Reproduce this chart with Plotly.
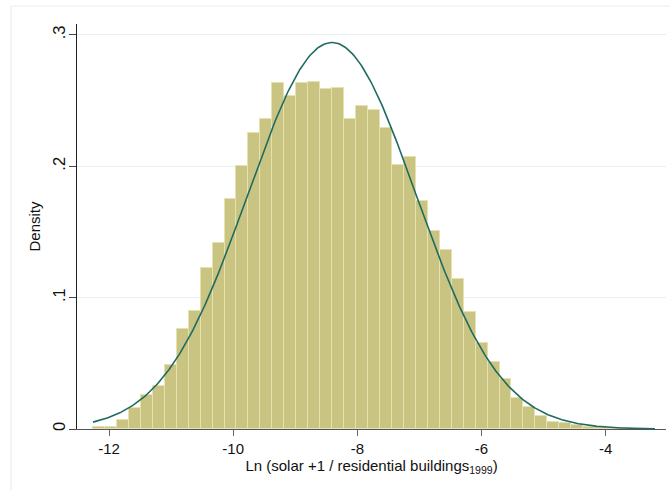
import numpy as np
import plotly.graph_objects as go

# Histogram bins (density scale)
bin_start = -12.258
bin_width = 0.1926
density = [
    0.0013, 0.0018, 0.0067, 0.0157, 0.0257, 0.0330, 0.0491, 0.0758, 0.0902, 0.1223,
    0.1418, 0.1748, 0.2000, 0.2257, 0.2358, 0.2633, 0.2534, 0.2633, 0.2640, 0.2592,
    0.2597, 0.2361, 0.2457, 0.2432, 0.2295, 0.2008, 0.2074, 0.1736, 0.1507, 0.1360,
    0.1139, 0.0892, 0.0653, 0.0511, 0.0384, 0.0239, 0.0171, 0.0100, 0.0056, 0.0046,
    0.0028, 0.0018, 0.0012, 0.0008, 0.0005, 0.0003, 0.0002,
]

# Fitted normal overlay parameters
norm_mean = -8.41
norm_sd = 1.356

x_ticks = [-12, -10, -8, -6, -4]
y_ticks = [0, 0.1, 0.2, 0.3]
y_tick_labels = ["0", ".1", ".2", ".3"]

n_bins = len(density)
centers = [bin_start + (i + 0.5) * bin_width for i in range(n_bins)]
x_lo = bin_start
x_hi = bin_start + n_bins * bin_width

xs = np.linspace(x_lo, x_hi, 400)
pdf = np.exp(-0.5 * ((xs - norm_mean) / norm_sd) ** 2) / (norm_sd * np.sqrt(2 * np.pi))

fig = go.Figure()
fig.add_trace(go.Bar(
    x=centers, y=density, width=[bin_width] * n_bins,
    marker=dict(color="rgb(202,196,131)", line=dict(color="rgb(230,226,176)", width=1)),
    hoverinfo="skip",
))
fig.add_trace(go.Scatter(
    x=xs, y=pdf, mode="lines",
    line=dict(color="#1f6b62", width=1.6),
    hoverinfo="skip",
))

W, H = 670, 490
ml, mr, mt, mb = 77, 4, 24, 61

fig.update_layout(
    width=W, height=H,
    margin=dict(l=ml, r=mr, t=mt, b=mb),
    paper_bgcolor="white", plot_bgcolor="white",
    showlegend=False,
    bargap=0,
    font=dict(family="Liberation Sans, Arial, sans-serif", color="#111"),
    xaxis=dict(
        range=[-12.516, -3.028],
        tickvals=x_ticks, ticktext=[str(v) for v in x_ticks],
        ticks="outside", ticklen=6, tickcolor="#666", tickwidth=1,
        showline=True, linecolor="#555", linewidth=1.2,
        showgrid=False, zeroline=False,
        tickfont=dict(size=15),
        title=dict(text="Ln (solar +1 / residential buildings<sub>1999</sub>)",
                   font=dict(size=15), standoff=3),
    ),
    yaxis=dict(
        range=[0, 0.3083],
        tickvals=y_ticks, ticktext=y_tick_labels, tickangle=-90,
        ticks="outside", ticklen=7, tickcolor="#444", tickwidth=1,
        ticklabelstandoff=-3,
        showline=True, linecolor="#222", linewidth=1.2,
        showgrid=True, gridcolor="#e9f0f3", gridwidth=1.2,
        zeroline=False,
        tickfont=dict(size=16.5),
        title=dict(text="Density", font=dict(size=15), standoff=6),
    ),
)

# Light outer frame around the graph region
pw = W - ml - mr
ph = H - mt - mb
fx0 = (11 - ml) / pw
fy1 = 1 + (mt - 6) / ph
fig.add_shape(type="line", xref="paper", yref="paper",
              x0=fx0, x1=(W + 5 - ml) / pw, y0=fy1, y1=fy1,
              line=dict(color="#e6eef1", width=1.2), layer="below")
fig.add_shape(type="line", xref="paper", yref="paper",
              x0=fx0, x1=fx0, y0=fy1, y1=-(mb + 5) / ph,
              line=dict(color="#e6eef1", width=1.2), layer="below")

fig.write_html("out.html")
